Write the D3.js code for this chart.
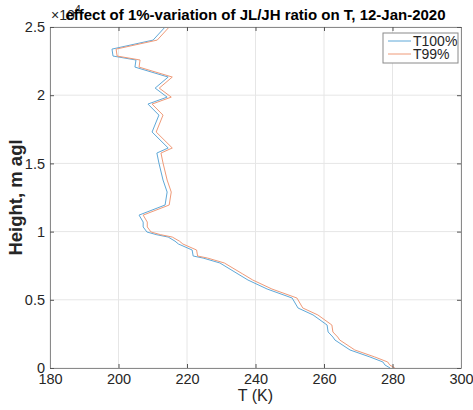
<!DOCTYPE html>
<html>
<head>
<meta charset="utf-8">
<script src="https://cdn.jsdelivr.net/npm/d3@7"></script>
<style>
  body { margin: 0; background: #fff; }
  text { font-family: "Liberation Sans", Arial, sans-serif; }
</style>
</head>
<body>
<svg id="chart" width="473" height="410"></svg>
<script>
// heights in m agl
const heights = [0, 220, 440, 810, 1320, 2050, 2270, 2640, 3150, 3890, 4400, 5130, 5790, 6450,
  6890, 7700, 8060, 8210, 8650, 9090, 9300, 9600, 9780, 9970, 10340, 10700, 11210, 11950,
  12900, 13780, 15030, 15760, 16130, 17300, 18540, 19350, 19860, 20520, 21330, 22060,
  22580, 22870, 23380, 24040, 25000];
// T100% (K)
const t100 = [279.3, 277.8, 277.2, 273.4, 267.6, 263.2, 262.6, 261.2, 260.9, 256.8, 252.4, 250.7, 243.4, 237.8,
  234.9, 229.6, 224.7, 221.8, 221.5, 217.5, 216.5, 214.5, 211.0, 208.3, 207.2, 207.2, 206.0, 213.6,
  214.2, 213.0, 211.8, 211.2, 214.5, 209.8, 211.8, 208.6, 214.2, 210.7, 214.5, 204.8,
  205.1, 198.4, 198.1, 210.1, 213.6];
// T99% (K)
const t99 = [280.7, 279.2, 278.6, 274.8, 269.0, 264.6, 264.0, 262.6, 262.3, 258.2, 253.8, 252.1, 244.8, 239.2,
  236.3, 230.9, 226.0, 223.1, 222.8, 218.8, 217.8, 215.7, 212.2, 209.5, 208.4, 208.4, 207.2, 214.8,
  215.4, 214.2, 213.0, 212.4, 215.7, 211.0, 213.0, 209.8, 215.4, 211.9, 215.7, 206.0,
  206.3, 199.6, 199.3, 211.3, 214.8];
const xTicks = [180, 200, 220, 240, 260, 280, 300];
const yTicks = [0, 5000, 10000, 15000, 20000, 25000];
const seriesNames = ["T100%", "T99%"];
const seriesColors = ["#5fa8d8", "#ef9a78"];

const svg = d3.select("#chart");
const margin = {top: 27, right: 12, bottom: 42, left: 50};
const width = +svg.attr("width");
const height = +svg.attr("height");
const innerW = width - margin.left - margin.right;
const innerH = height - margin.top - margin.bottom;

svg.append("rect").attr("width", width).attr("height", height).attr("fill", "#fff");

const x = d3.scaleLinear().domain([180, 300]).range([0, innerW]);
const y = d3.scaleLinear().domain([0, 25000]).range([innerH, 0]);

const g = svg.append("g").attr("transform", `translate(${margin.left},${margin.top})`);

// grid
g.append("g").selectAll("line").data(xTicks).join("line")
  .attr("x1", d => x(d)).attr("x2", d => x(d)).attr("y1", 0).attr("y2", innerH)
  .attr("stroke", "#e6e6e6");
g.append("g").selectAll("line").data(yTicks).join("line")
  .attr("y1", d => y(d)).attr("y2", d => y(d)).attr("x1", 0).attr("x2", innerW)
  .attr("stroke", "#e6e6e6");

// series
const series = [t100, t99];
const line = d3.line().x(d => x(d[0])).y(d => y(d[1]));
series.forEach((vals, i) => {
  g.append("path")
    .datum(vals.map((v, j) => [v, heights[j]]))
    .attr("fill", "none")
    .attr("stroke", seriesColors[i])
    .attr("stroke-width", 1)
    .attr("d", line);
});

// axes
const styleAxis = sel => {
  sel.select(".domain").attr("stroke", "#8a8a8a");
  sel.selectAll(".tick line").attr("stroke", "#555");
  sel.selectAll("text").attr("fill", "#262626").attr("font-size", 14.5)
    .attr("font-family", "'Liberation Sans', Arial, sans-serif");
};
g.append("g").attr("transform", `translate(0,${innerH})`)
  .call(d3.axisBottom(x).tickValues(xTicks).tickSize(-4).tickPadding(6).tickSizeOuter(0))
  .call(styleAxis);
g.append("g")
  .call(d3.axisTop(x).tickValues(xTicks).tickSize(-4).tickFormat("").tickSizeOuter(0))
  .call(styleAxis);
g.append("g")
  .call(d3.axisLeft(y).tickValues(yTicks).tickSize(-4).tickPadding(5).tickSizeOuter(0)
    .tickFormat(d => d / 1e4))
  .call(styleAxis);
g.append("g").attr("transform", `translate(${innerW},0)`)
  .call(d3.axisRight(y).tickValues(yTicks).tickSize(-4).tickFormat("").tickSizeOuter(0))
  .call(styleAxis);

// exponent label
const expo = svg.append("text").attr("x", margin.left + 1).attr("y", 20)
  .attr("font-size", 14).attr("fill", "#262626");
expo.append("tspan").text("×10");
expo.append("tspan").attr("dy", -7).attr("font-size", 11).text("4");

// title
svg.append("text")
  .attr("x", margin.left + innerW / 2).attr("y", 20)
  .attr("text-anchor", "middle")
  .attr("font-size", 15).attr("font-weight", "bold").attr("fill", "#000")
  .text("effect of 1%-variation of JL/JH ratio on T, 12-Jan-2020");

// axis labels
svg.append("text")
  .attr("x", margin.left + innerW / 2).attr("y", 401)
  .attr("text-anchor", "middle").attr("font-size", 16).attr("fill", "#262626")
  .text("T (K)");
svg.append("text")
  .attr("transform", `translate(22,${margin.top + innerH / 2}) rotate(-90)`)
  .attr("text-anchor", "middle").attr("font-size", 18.5).attr("font-weight", "bold").attr("fill", "#262626")
  .text("Height, m agl");

// legend
const lg = svg.append("g").attr("transform", "translate(383,33)");
lg.append("rect").attr("width", 75).attr("height", 30)
  .attr("fill", "#fff").attr("stroke", "#8a8a8a");
seriesNames.forEach((name, i) => {
  const yy = 8 + i * 13;
  lg.append("line").attr("x1", 5).attr("x2", 28).attr("y1", yy).attr("y2", yy)
    .attr("stroke", seriesColors[i]);
  lg.append("text").attr("x", 30).attr("y", yy + 5)
    .attr("font-size", 14).attr("fill", "#262626").text(name);
});
</script>
</body>
</html>
